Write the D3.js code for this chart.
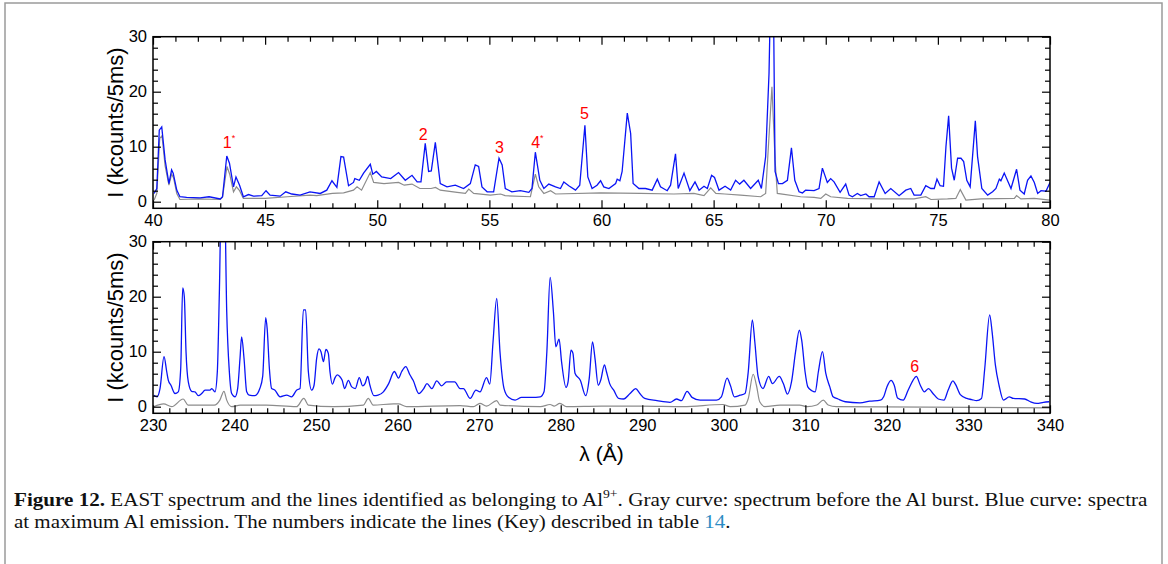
<!DOCTYPE html>
<html>
<head>
<meta charset="utf-8">
<script src="https://cdn.jsdelivr.net/npm/d3@7"></script>
<style>
  body { margin: 0; background: #fff; }
  svg { display: block; }
</style>
</head>
<body>
<div id="chart"></div>
<script>
const width = 1168;
const height = 564;

// tick labels
const topTicks = [40, 45, 50, 55, 60, 65, 70, 75, 80];
const bottomTicks = [230, 240, 250, 260, 270, 280, 290, 300, 310, 320, 330, 340];
const yTicks = [0, 10, 20, 30];

// spectra [lambda (A), I (kcounts/5ms)]
const blueTop = [[40.05,1.5],[40.17,2.4],[40.28,13.0],[40.39,13.6],[40.54,7.6],[40.71,3.3],[40.83,5.8],[40.9,5.2],[41.06,2.1],[41.2,0.9],[41.5,0.8],[42.1,0.7],[42.5,0.9],[43.0,0.5],[43.1,0.9],[43.29,8.3],[43.41,7.0],[43.59,2.7],[43.7,4.5],[43.86,3.0],[44.03,0.9],[44.26,1.3],[44.48,1.0],[44.85,1.1],[45.04,2.0],[45.22,1.2],[45.67,1.0],[45.92,1.8],[46.19,1.4],[46.56,1.2],[47.0,1.8],[47.46,1.5],[47.75,2.1],[47.98,3.8],[48.2,2.6],[48.38,8.2],[48.5,8.1],[48.72,2.9],[48.94,3.5],[49.0,4.2],[49.2,3.9],[49.39,5.2],[49.69,6.8],[49.8,5.0],[49.96,5.5],[50.2,4.5],[50.6,4.2],[50.95,5.3],[51.25,3.9],[51.55,4.8],[51.78,3.6],[51.95,3.6],[52.14,10.6],[52.29,5.5],[52.41,5.6],[52.59,10.8],[52.81,3.3],[53.11,2.7],[53.48,3.0],[53.85,2.4],[54.15,3.3],[54.37,6.7],[54.52,6.4],[54.67,2.7],[54.9,1.8],[55.19,1.8],[55.43,7.9],[55.57,6.7],[55.71,2.4],[56.0,1.8],[56.38,2.0],[56.76,1.7],[56.9,2.4],[57.05,9.0],[57.25,3.9],[57.43,2.4],[57.65,3.2],[57.95,2.7],[58.17,2.4],[58.32,3.6],[58.54,2.9],[58.84,2.1],[59.03,3.0],[59.26,13.9],[59.39,4.5],[59.58,2.4],[59.8,3.0],[59.96,3.8],[60.1,2.7],[60.33,2.4],[60.63,3.3],[60.7,4.1],[60.82,3.8],[60.92,5.5],[61.15,16.1],[61.3,12.4],[61.41,3.3],[61.67,2.4],[61.96,2.4],[62.26,2.1],[62.49,4.1],[62.63,2.7],[62.93,2.0],[63.08,3.0],[63.3,8.7],[63.42,2.4],[63.68,5.2],[63.94,2.0],[64.17,3.6],[64.35,2.1],[64.57,2.8],[64.72,2.4],[64.91,4.8],[65.04,4.4],[65.24,2.1],[65.51,2.8],[65.76,2.1],[65.98,3.9],[66.16,3.2],[66.35,3.9],[66.65,2.4],[66.99,3.9],[67.13,2.4],[67.32,8.2],[67.47,23.3],[67.56,42],[67.66,40],[67.74,5.5],[67.89,3.3],[68.07,3.3],[68.29,3.9],[68.47,9.8],[68.62,3.9],[68.81,1.8],[68.96,1.6],[69.1,2.1],[69.48,2.0],[69.7,2.4],[69.85,6.1],[70.07,3.5],[70.22,4.2],[70.37,3.6],[70.64,1.7],[70.89,3.2],[71.04,1.2],[71.19,0.9],[71.41,1.5],[71.56,1.1],[71.79,1.4],[71.93,0.9],[72.16,0.9],[72.38,3.6],[72.65,1.5],[72.9,2.4],[73.27,1.1],[73.57,2.1],[73.79,2.4],[73.94,1.2],[74.24,1.2],[74.46,2.9],[74.69,2.4],[74.84,2.4],[74.96,4.1],[75.1,2.9],[75.25,2.8],[75.36,10.0],[75.48,15.6],[75.61,6.1],[75.73,3.9],[75.88,7.9],[76.03,7.9],[76.15,7.3],[76.29,3.9],[76.44,2.7],[76.67,14.7],[76.77,8.2],[76.96,2.4],[77.22,1.2],[77.44,1.8],[77.59,2.4],[77.74,4.1],[77.81,3.8],[77.96,5.2],[78.26,2.4],[78.51,5.9],[78.66,2.1],[78.85,1.4],[79.0,3.9],[79.15,4.7],[79.3,3.5],[79.45,1.5],[79.6,2.0],[79.82,1.9],[80.0,3.5]];

const grayTop = [[40.05,0.3],[40.17,1.5],[40.3,11.5],[40.4,12.0],[40.54,6.5],[40.71,3.0],[40.83,5.0],[40.92,4.3],[41.06,1.5],[41.2,0.4],[42.0,0.5],[43.0,0.4],[43.1,0.8],[43.3,6.4],[43.42,5.0],[43.59,1.8],[43.72,2.7],[43.86,2.0],[44.03,0.6],[45.0,0.6],[46.0,0.9],[47.0,1.2],[47.3,1.1],[48.0,1.5],[48.5,1.6],[48.94,2.1],[49.1,2.7],[49.3,2.1],[49.69,5.3],[49.84,3.5],[50.3,3.3],[50.95,3.5],[51.2,3.0],[51.55,3.2],[51.9,2.4],[52.4,2.4],[52.6,2.6],[52.81,2.1],[53.56,1.7],[53.93,1.5],[54.08,2.3],[54.3,1.5],[55.04,1.2],[55.5,1.4],[55.7,1.1],[56.83,0.9],[57.05,5.0],[57.2,2.7],[57.43,1.5],[57.73,2.0],[57.95,1.4],[59.96,1.6],[61.74,1.5],[63.23,1.4],[64.12,1.5],[64.57,1.1],[64.87,2.5],[65.1,1.5],[65.5,1.4],[66.2,1.2],[67.1,0.9],[67.32,1.5],[67.5,14],[67.6,20.9],[67.74,7.6],[67.84,1.5],[68.88,0.9],[69.48,0.8],[69.78,0.6],[70.0,1.4],[70.22,0.9],[70.97,0.6],[72.46,0.5],[73.94,0.5],[74.46,0.9],[74.69,0.4],[75.43,0.5],[75.8,0.6],[76.0,2.2],[76.25,0.3],[76.92,0.5],[78.41,0.6],[78.51,1.1],[78.7,0.5],[79.3,0.6],[80.0,0.3]];

const blueBottom = [[230.1,2.1],[230.5,1.8],[230.86,3.3],[231.35,9.1],[231.68,6.4],[231.88,4.8],[232.2,3.9],[232.7,2.4],[233.1,2.7],[233.4,7.0],[233.64,21.6],[233.84,20.0],[234.05,10.0],[234.33,4.5],[234.74,2.8],[235.15,2.7],[235.56,2.0],[235.97,2.4],[236.38,3.0],[236.99,3.0],[237.2,3.3],[237.6,2.7],[237.89,6.4],[238.14,20.9],[238.4,40],[238.75,40],[239.04,17.3],[239.36,6.4],[239.65,2.4],[240.06,1.8],[240.38,3.3],[240.67,8.8],[240.87,12.7],[241.16,8.8],[241.49,2.7],[241.8,2.1],[242.5,2.0],[243.1,3.3],[243.45,5.5],[243.82,16.2],[244.0,14.2],[244.27,7.0],[244.55,3.3],[244.96,3.0],[245.58,1.8],[246.4,2.1],[247.0,1.8],[247.6,3.0],[248.03,3.3],[248.44,17.6],[248.72,17.6],[249.05,6.4],[249.46,3.0],[249.75,3.9],[250.07,8.8],[250.36,10.5],[250.6,10.0],[250.9,8.2],[251.2,10.4],[251.5,9.7],[251.7,6.4],[252.0,4.1],[252.3,5.2],[252.6,5.8],[252.9,5.5],[253.2,4.8],[253.5,3.3],[253.96,4.8],[254.37,3.6],[254.8,3.3],[255.3,5.3],[255.7,3.8],[256.0,4.2],[256.33,5.5],[256.6,3.9],[257.1,2.0],[257.6,2.1],[258.25,2.7],[258.9,4.2],[259.6,6.4],[260.1,5.2],[260.5,6.4],[261.0,7.3],[261.5,5.8],[261.9,4.8],[262.6,2.4],[263.2,3.3],[263.6,4.2],[264.2,3.3],[264.8,4.7],[265.4,3.8],[266.0,4.5],[266.6,4.5],[267.0,4.5],[267.65,3.3],[268.06,3.3],[268.9,1.5],[269.6,3.0],[270.1,2.7],[270.9,5.3],[271.3,4.1],[271.7,11.8],[272.15,19.7],[272.55,10.0],[273.05,3.3],[273.6,1.7],[274.4,1.2],[275.2,1.7],[276.4,1.7],[277.5,1.8],[277.95,2.7],[278.3,10.0],[278.7,23.5],[279.1,17.3],[279.4,10.9],[279.8,12.3],[280.1,8.2],[280.65,3.5],[280.9,4.5],[281.26,10.3],[281.5,9.7],[281.75,6.1],[282.4,4.8],[283.06,2.0],[283.5,5.2],[283.9,11.8],[284.2,8.8],[284.6,3.9],[284.9,4.8],[285.36,7.6],[285.6,6.4],[286.0,4.2],[286.5,3.0],[287.1,1.5],[287.7,1.4],[288.5,2.4],[289.2,3.3],[289.7,2.4],[290.3,1.5],[291.8,1.1],[293.4,0.8],[294.2,1.4],[294.8,1.1],[295.5,2.8],[296.1,1.7],[297.1,1.2],[299.1,1.2],[299.7,1.8],[300.4,5.2],[300.8,3.9],[301.3,1.8],[302.0,2.1],[302.6,2.4],[303.0,6.4],[303.5,15.8],[303.8,11.8],[304.2,5.5],[304.8,3.3],[305.5,5.5],[305.96,4.2],[306.8,5.5],[307.3,4.2],[307.8,2.3],[308.3,4.5],[308.8,10.0],[309.26,13.9],[309.55,12.1],[309.96,6.4],[310.3,3.6],[310.8,2.9],[311.2,2.7],[311.6,6.4],[312.1,10.0],[312.5,6.1],[313.0,3.6],[313.4,1.8],[314.0,1.4],[314.9,0.9],[316.7,0.7],[317.9,1.0],[319.2,1.2],[319.6,1.8],[320.0,3.6],[320.5,4.8],[320.9,3.9],[321.3,1.6],[322.0,1.2],[322.6,3.0],[323.2,4.8],[323.6,5.5],[324.1,3.9],[324.6,2.7],[325.1,3.3],[325.6,2.5],[326.3,1.4],[327.0,1.2],[327.5,3.0],[328.1,4.7],[328.4,4.1],[329.0,2.2],[329.8,1.5],[330.4,1.3],[331.0,1.1],[331.6,1.5],[332.0,7.0],[332.6,16.7],[332.9,13.6],[333.3,7.6],[333.75,3.9],[334.3,1.2],[335.0,1.8],[335.5,1.5],[336.9,1.4],[337.6,0.9],[338.4,0.6],[339.2,0.8],[339.9,0.9]];

const grayBottom = [[230.1,0],[231.3,0.5],[232.3,0],[233.7,1.4],[234.3,0.3],[236.2,0.3],[237.5,0.3],[238.2,1.2],[238.7,2.8],[239.04,1.2],[239.65,0],[240.7,0.3],[243.9,0.3],[247.6,0],[248.5,1.5],[249.05,0.3],[252.1,0],[255.8,0.3],[256.4,1.5],[257.0,0.3],[259.5,0.5],[260.1,0.5],[261.1,0],[267.65,0.2],[269.3,0],[270.1,0.6],[270.9,0.1],[272.15,1.1],[272.55,0.3],[277.5,0],[278.7,0.4],[279.2,0.1],[279.9,0.6],[280.7,0],[285,0.1],[290,0.1],[295,0],[299.9,0.4],[300.8,0],[302.6,0.3],[303.0,1.5],[303.6,5.9],[304.0,3.9],[304.4,0.9],[305.05,0],[306.9,0.3],[309.3,0.3],[310.2,0],[311.4,0.3],[312.2,1.2],[312.8,0.3],[313.8,0],[340,-0.2]];

// line keys (table 14)
const topKeys = ['1', '2', '3', '4', '5'];
const topKeyLambda = [43.3, 52.05, 55.45, 57.05, 59.24];
const topKeyLevel = [10.7, 12.3, 9.8, 10.8, 16.1];
const topKeyStar = [true, false, false, true, false];
const bottomKeys = ['6'];
const bottomKeyLambda = [323.4];
const bottomKeyLevel = [7.4];
const bottomKeyStar = [false];

const font = 'Liberation Sans, Arial, sans-serif';
const plot = { left: 153, right: 1050, height: 171.6 };

const svg = d3.select('#chart')
    .append('svg')
    .attr('width', width)
    .attr('height', height);

// figure frame
svg.append('rect')
    .attr('x', 5).attr('y', 3)
    .attr('width', 1157).attr('height', 620)
    .attr('fill', 'none')
    .attr('stroke', '#9a9a9a')
    .attr('stroke-width', 1.5);

function drawPanel(id, top, xDomain, xTicks, xMinorStep, blue, gray, keys, keyLambda, keyLevel, keyStar, smooth) {
    const x = d3.scaleLinear().domain(xDomain).range([plot.left, plot.right]);
    const y = d3.scaleLinear().domain([-1.2, 30]).range([top + plot.height, top]);
    const g = svg.append('g');

    g.append('clipPath').attr('id', id)
        .append('rect')
        .attr('x', plot.left).attr('y', top)
        .attr('width', plot.right - plot.left).attr('height', plot.height);

    const line = d3.line()
        .x(d => x(d[0]))
        .y(d => y(d[1]))
        .curve(smooth ? d3.curveMonotoneX : d3.curveLinear);

    const curves = g.append('g').attr('clip-path', `url(#${id})`);
    curves.append('path').datum(gray)
        .attr('d', line).attr('fill', 'none')
        .attr('stroke', '#8c8c8c').attr('stroke-width', 1.2);
    curves.append('path').datum(blue)
        .attr('d', line).attr('fill', 'none')
        .attr('stroke', '#0a14f5').attr('stroke-width', 1.3);

    // minor ticks
    const xMinor = d3.range(xDomain[0], xDomain[1] + 0.001, xMinorStep).filter(v => !xTicks.includes(v));
    const yMinor = d3.range(0, 30, 2).filter(v => !yTicks.includes(v));

    const axes = [
        [() => d3.axisBottom(x), 'translate(0,' + (top + plot.height) + ')', xTicks, xMinor, true],
        [() => d3.axisTop(x), 'translate(0,' + top + ')', xTicks, xMinor, false],
        [() => d3.axisLeft(y), 'translate(' + plot.left + ',0)', yTicks, yMinor, true],
        [() => d3.axisRight(y), 'translate(' + plot.right + ',0)', yTicks, yMinor, false]
    ];
    axes.forEach(([makeAxis, tr, major, minor, labels]) => {
        const a = g.append('g').attr('transform', tr)
            .call(makeAxis().tickValues(major).tickSize(-8).tickPadding(6)
                .tickFormat(labels ? d3.format('d') : ''));
        a.select('.domain').remove();
        a.selectAll('text').attr('font-family', font).attr('font-size', 16.5).attr('fill', '#000');
        a.selectAll('line').attr('stroke-width', 1.2);

        const m = g.append('g').attr('transform', tr)
            .call(makeAxis().tickValues(minor).tickSize(-5).tickFormat(''));
        m.select('.domain').remove();
        m.selectAll('line').attr('stroke-width', 1.2);
    });

    g.append('rect')
        .attr('x', plot.left).attr('y', top)
        .attr('width', plot.right - plot.left).attr('height', plot.height)
        .attr('fill', 'none').attr('stroke', '#000').attr('stroke-width', 1.5);

    g.append('text')
        .attr('transform', `translate(123,${top + plot.height / 2}) rotate(-90)`)
        .attr('text-anchor', 'middle')
        .attr('font-family', font).attr('font-size', 22)
        .text('I (kcounts/5ms)');

    // key numbers
    keys.forEach((k, i) => {
        const t = g.append('text')
            .attr('x', x(keyLambda[i])).attr('y', y(keyLevel[i]) + 5.5)
            .attr('text-anchor', 'middle')
            .attr('font-family', font).attr('font-size', 16)
            .attr('fill', '#ff0000')
            .text(k);
        if (keyStar[i]) {
            t.append('tspan').attr('font-size', 9).attr('dy', -7).text('*');
            t.attr('x', x(keyLambda[i]) + 2);
        }
    });
}

drawPanel('clipTop', 36.7, [40, 80], topTicks, 1, blueTop, grayTop,
    topKeys, topKeyLambda, topKeyLevel, topKeyStar, false);
drawPanel('clipBottom', 241.7, [230, 340], bottomTicks, 2, blueBottom, grayBottom,
    bottomKeys, bottomKeyLambda, bottomKeyLevel, bottomKeyStar, true);

svg.append('text')
    .attr('x', (plot.left + plot.right) / 2).attr('y', 461)
    .attr('text-anchor', 'middle')
    .attr('font-family', font).attr('font-size', 21)
    .text('\u03bb (\u00c5)');

// caption
const serif = 'Liberation Serif, Times New Roman, serif';
function captionLine(yPos, targetWidth, build) {
    const t = svg.append('text')
        .attr('x', 0).attr('y', 0)
        .attr('font-family', serif).attr('font-size', 18.5).attr('fill', '#111');
    build(t);
    const w = t.node().getComputedTextLength();
    t.attr('transform', `translate(14,${yPos}) scale(${targetWidth / w},1)`);
}

captionLine(506, 1134, t => {
    t.append('tspan').attr('font-weight', 'bold').text('Figure 12.');
    t.append('tspan').text(' EAST spectrum and the lines identified as belonging to Al');
    t.append('tspan').attr('font-size', 12).attr('dy', -8).text('9+');
    t.append('tspan').attr('dy', 8).text('. Gray curve: spectrum before the Al burst. Blue curve: spectra');
});
captionLine(528, 717, t => {
    t.append('tspan').text('at maximum Al emission. The numbers indicate the lines (Key) described in table ');
    t.append('tspan').attr('fill', '#2a8cc4').text('14');
    t.append('tspan').text('.');
});
</script>
</body>
</html>
